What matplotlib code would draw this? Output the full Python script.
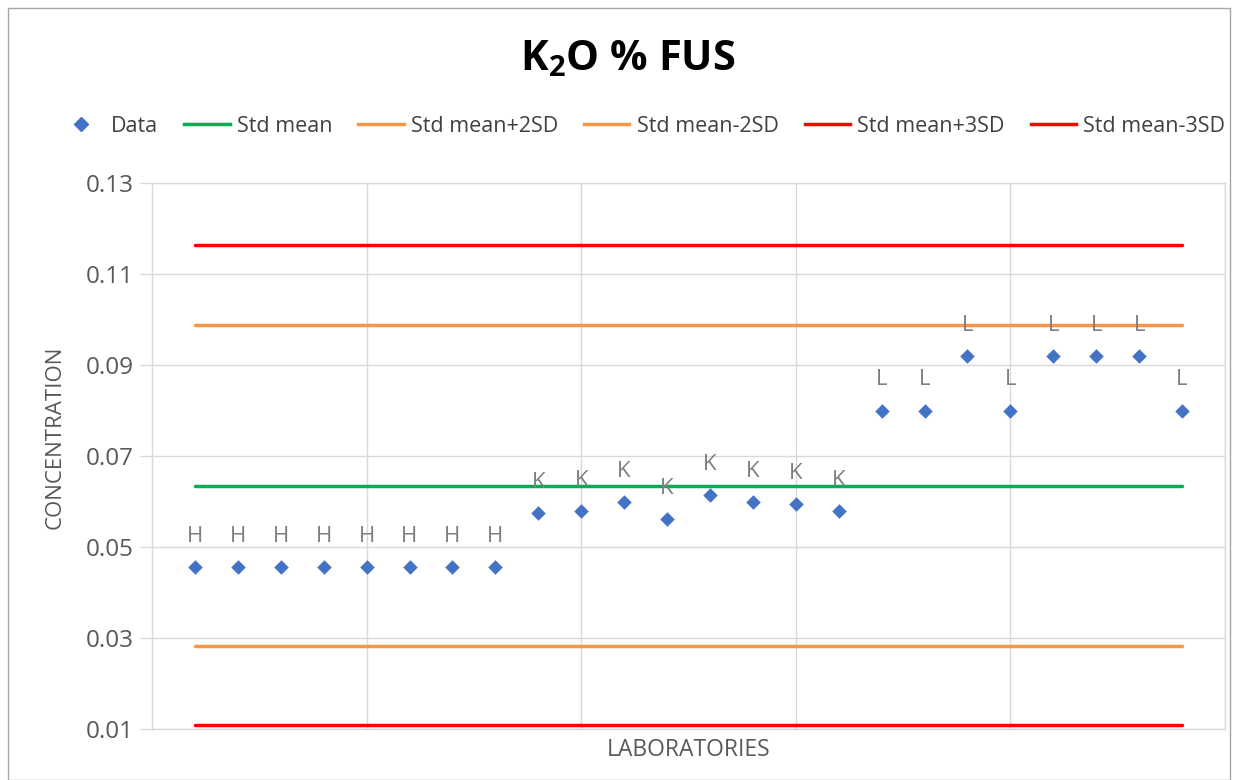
import matplotlib
matplotlib.use("Agg")
import matplotlib.pyplot as plt
from matplotlib.lines import Line2D
from matplotlib.patches import Rectangle

plt.rcParams['font.family'] = ['Open Sans', 'DejaVu Sans']
plt.rcParams['mathtext.default'] = 'regular'

# ---- data ----
labs = list(range(1, 25))
values = [0.0456]*8 + [0.0575, 0.0579, 0.0599, 0.0562, 0.0614, 0.0599, 0.0595, 0.0579] + \
         [0.0800, 0.0800, 0.0920, 0.0800, 0.0920, 0.0920, 0.0920, 0.0800]
groups = ['H']*8 + ['K']*8 + ['L']*8
std_mean = 0.0635
plus2 = 0.0987
minus2 = 0.0282
plus3 = 0.1163
minus3 = 0.0108
yticks = [0.01, 0.03, 0.05, 0.07, 0.09, 0.11, 0.13]

fig = plt.figure(figsize=(12.38, 7.8), dpi=100)
ax = fig.add_axes([152/1238, 1-729/780, (1225-152)/1238, (729-183)/780])

gray = '#595959'
grid = '#d9d9d9'

ax.set_xlim(0, 25)
ax.set_ylim(0.01, 0.13)
ax.set_yticks(yticks)
ax.set_yticklabels([f"{t:.2f}" for t in yticks], fontsize=17.5, color=gray)
ax.set_xticks([5, 10, 15, 20, 25])
ax.set_xticklabels([])
ax.tick_params(axis='x', length=0)
ax.tick_params(axis='y', length=9, color=grid, width=1, pad=4)
ax.grid(True, color=grid, linewidth=1)
ax.set_axisbelow(True)
for s in ax.spines.values():
    s.set_color(grid)
    s.set_linewidth(1)

x0, x1 = labs[0], labs[-1]
lw = 2.5
ax.plot([x0, x1], [std_mean]*2, color='#00B050', lw=lw, solid_capstyle='round')
ax.plot([x0, x1], [plus2]*2, color='#F79646', lw=lw, solid_capstyle='round')
ax.plot([x0, x1], [minus2]*2, color='#F79646', lw=lw, solid_capstyle='round')
ax.plot([x0, x1], [plus3]*2, color='#FF0000', lw=lw, solid_capstyle='round')
ax.plot([x0, x1], [minus3]*2, color='#FF0000', lw=lw, solid_capstyle='round')

ax.scatter(labs, values, marker='D', s=55, color='#4472C4', zorder=5, linewidths=0)
for x, v, g in zip(labs, values, groups):
    ax.annotate(g, (x, v), xytext=(0, 22), textcoords='offset points',
                ha='center', va='center', fontsize=16, color='#7f7f7f', zorder=6)

ax.set_xlabel('LABORATORIES', fontsize=16.5, color=gray, labelpad=3)
ax.set_ylabel('CONCENTRATION', fontsize=16, color=gray)
ax.yaxis.set_label_coords((66 - 152) / 1073, (729 - 437) / 546)

fig.text(628/1238, 1-60/780, r'K$_2$O % FUS', ha='center', va='center',
         fontsize=30, fontweight='bold', color='black')

handles = [
    Line2D([], [], marker='D', color='#4472C4', linestyle='None', markersize=7),
    Line2D([], [], color='#00B050', lw=lw),
    Line2D([], [], color='#F79646', lw=lw),
    Line2D([], [], color='#F79646', lw=lw),
    Line2D([], [], color='#FF0000', lw=lw),
    Line2D([], [], color='#FF0000', lw=lw),
]
names = ['Data', 'Std mean', 'Std mean+2SD', 'Std mean-2SD', 'Std mean+3SD', 'Std mean-3SD']
leg = fig.legend(handles, names, loc='center', bbox_to_anchor=(642/1238, 1-126/780), ncol=6,
                 frameon=False, fontsize=15.5, handlelength=2.1, handletextpad=0.35,
                 columnspacing=1.2)
for t in leg.get_texts():
    t.set_color('#404040')

fig.patches.append(Rectangle((8/1238, 0), 1-16/1238, 1-8/780, transform=fig.transFigure,
                             fill=False, edgecolor='#a6a6a6', lw=1))

fig.savefig('out.png', dpi=100)
